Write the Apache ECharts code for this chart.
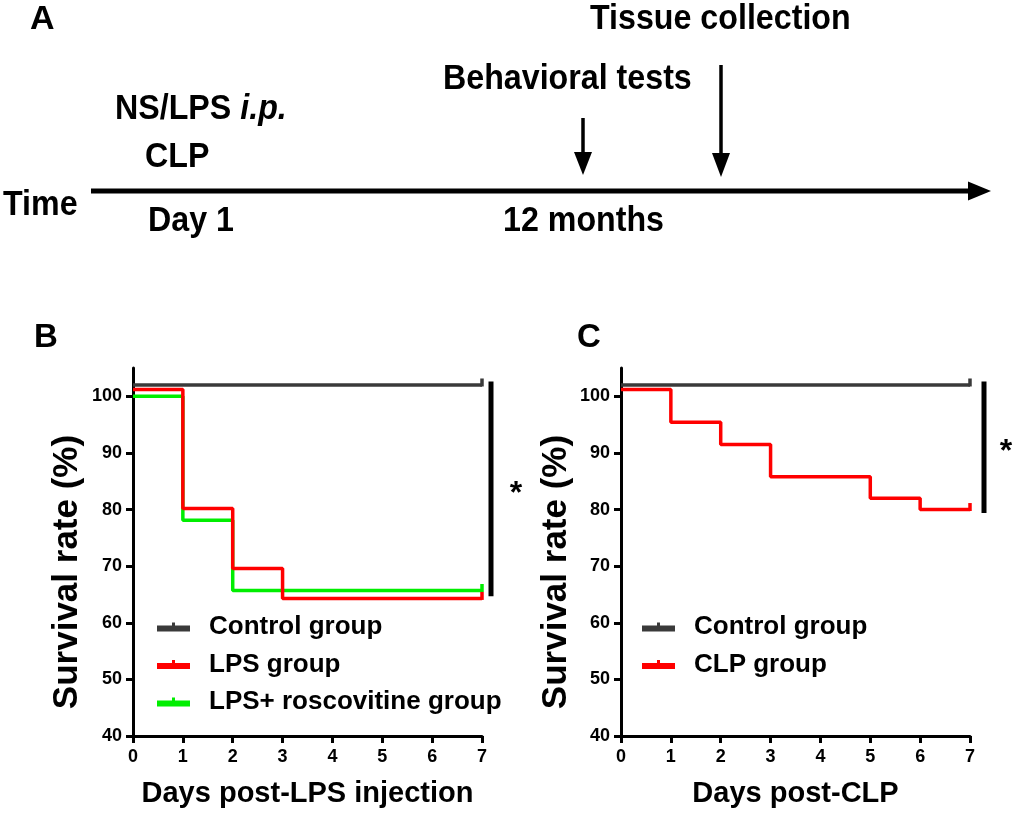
<!DOCTYPE html>
<html><head><meta charset="utf-8">
<script src="https://cdn.jsdelivr.net/npm/echarts@6/dist/echarts.min.js"></script>
<style>html,body{margin:0;padding:0;background:#fff}#c{width:1020px;height:813px}</style>
</head><body><div id="c"></div>
<script>
// ---------- data ----------
const dayTicks = [0, 1, 2, 3, 4, 5, 6, 7];
const yTicks = [40, 50, 60, 70, 80, 90, 100];

// Panel B
const namesB = ['Control group', 'LPS group', 'LPS+ roscovitine group'];
const bControlX = [0, 7];
const bControlY = [102, 102];
const bLpsX = [0, 1, 2, 3, 7];
const bLpsY = [101.2, 80.2, 69.6, 64.3, 64.3];
const bRosX = [0, 1, 2, 7];
const bRosY = [100, 78.1, 65.7, 65.7];
const sigBarB = [102.6, 64.7];   // y range of significance bar
// Panel C
const namesC = ['Control group', 'CLP group'];
const cControlX = [0, 7];
const cControlY = [102, 102];
const cClpX = [0, 1, 2, 3, 5, 6, 7];
const cClpY = [101.2, 95.4, 91.5, 85.8, 82, 80, 80];
const sigBarC = [102.6, 79.4];

// Panel A timeline labels
const timelineTexts = ['Time', 'Day 1', '12 months', 'CLP', 'Behavioral tests', 'Tissue collection'];

// ---------- styles ----------
const FONT = '"Liberation Sans", Arial, Helvetica, sans-serif';
const COL_CTRL = '#3a3a3a', COL_RED = '#ff0000', COL_GREEN = '#00ee00';

function mkData(xs, ys) {
  return xs.map((x, i) => i === xs.length - 1
    ? { value: [x, ys[i]], symbol: 'rect', symbolSize: [3.5, 8], symbolOffset: [0, -2.5] }
    : [x, ys[i]]);
}
function ser(name, xs, ys, color, gi, z) {
  return {
    type: 'line', name, xAxisIndex: gi, yAxisIndex: gi, step: 'end',
    data: mkData(xs, ys), symbol: 'none', showSymbol: true,
    color, lineStyle: { color, width: 3.5 }, itemStyle: { color },
    z, silent: true, animation: false
  };
}
function xAx(gi, name) {
  return {
    type: 'value', gridIndex: gi, min: 0, max: 7, interval: 1,
    name, nameLocation: 'middle', nameGap: 43,
    nameTextStyle: { fontSize: 29, fontWeight: 'bold', color: '#000', fontFamily: FONT },
    axisLine: { lineStyle: { color: '#000', width: 3 } },
    axisTick: { length: 7, lineStyle: { color: '#000', width: 3 } },
    axisLabel: { fontSize: 18, fontWeight: 'bold', color: '#000', margin: 12, fontFamily: FONT },
    splitLine: { show: false }
  };
}
function yAx(gi) {
  return {
    type: 'value', gridIndex: gi, min: 40, max: 105, interval: 10,
    axisLine: { show: true, lineStyle: { color: '#000', width: 3 } },
    axisTick: { show: true, length: 7, lineStyle: { color: '#000', width: 3 }, customValues: yTicks },
    axisLabel: { fontSize: 18, fontWeight: 'bold', color: '#000', margin: 11, fontFamily: FONT, customValues: yTicks },
    splitLine: { show: false }
  };
}
const legendIcon = 'path://M0,3H33V9H0Z M15,0H18V3H15Z';
function leg(left, names, colors) {
  return {
    orient: 'vertical', left, top: 613, padding: 0, itemGap: 9.5,
    itemWidth: 33, itemHeight: 9, icon: legendIcon, selectedMode: false,
    data: names.map((n, i) => ({ name: n, itemStyle: { color: colors[i] } })),
    textStyle: { fontSize: 26, fontWeight: 'bold', color: '#000', fontFamily: FONT, lineHeight: 28, padding: [0, 0, 0, 14] }
  };
}

const chart = echarts.init(document.getElementById('c'), null, { renderer: 'canvas' });
chart.setOption({
  animation: false,
  backgroundColor: '#fff',
  grid: [
    { left: 133, top: 368, width: 349, height: 368 },
    { left: 621, top: 368, width: 349, height: 368 }
  ],
  xAxis: [xAx(0, 'Days post-LPS injection'), xAx(1, 'Days post-CLP')],
  yAxis: [yAx(0), yAx(1)],
  legend: [
    leg(157, namesB, [COL_CTRL, COL_RED, COL_GREEN]),
    leg(642, namesC, [COL_CTRL, COL_RED])
  ],
  series: [
    ser(namesB[0], bControlX, bControlY, COL_CTRL, 0, 3),
    ser(namesB[2], bRosX, bRosY, COL_GREEN, 0, 4),
    ser(namesB[1], bLpsX, bLpsY, COL_RED, 0, 5),
    ser(namesC[0], cControlX, cControlY, COL_CTRL, 1, 3),
    ser(namesC[1], cClpX, cClpY, COL_RED, 1, 5)
  ]
});

// ---------- annotations (panel labels, axis titles, significance, timeline) ----------
function txt(text, x, y, size, opts) {
  opts = opts || {};
  return {
    type: 'text', x, y, rotation: opts.rotation || 0, scaleX: opts.scaleX || 1,
    style: {
      text, fill: '#000', font: (opts.italic ? 'italic ' : '') + 'bold ' + size + 'px ' + FONT,
      textAlign: opts.align || 'left', textVerticalAlign: 'middle', rich: opts.rich
    },
    silent: true, z: 10
  };
}
const g = [];
// panel labels
g.push(txt('A', 30, 20, 34));
g.push(txt('B', 34, 338, 33));
g.push(txt('C', 577, 338, 33));
// y axis titles
g.push(txt('Survival rate (%)', 67.5, 572, 35, { rotation: Math.PI / 2, align: 'center' }));
g.push(txt('Survival rate (%)', 556, 572, 35, { rotation: Math.PI / 2, align: 'center' }));

// significance bars from data values
function sig(gi, range, xOff, starOff) {
  const p1 = chart.convertToPixel({ gridIndex: gi }, [7, range[0]]);
  const p2 = chart.convertToPixel({ gridIndex: gi }, [7, range[1]]);
  const x = p1[0] + xOff;
  g.push({ type: 'line', shape: { x1: x, y1: p1[1], x2: x, y2: p2[1] }, style: { stroke: '#000', lineWidth: 5 }, silent: true, z: 10 });
  g.push(txt('*', x + starOff, (p1[1] + p2[1]) / 2 + 5, 32, { align: 'center' }));
}
sig(0, sigBarB, 9, 25);
sig(1, sigBarC, 14, 22);

// timeline
const TL_S = 0.92, TL_F = 35;
g.push(txt(timelineTexts[0], 3, 205, TL_F, { scaleX: TL_S }));
g.push(txt(timelineTexts[1], 148, 221, TL_F, { scaleX: TL_S }));
g.push(txt(timelineTexts[2], 503, 221, TL_F, { scaleX: TL_S }));
g.push({
  type: 'text', x: 115, y: 109, scaleX: TL_S, silent: true, z: 10,
  style: {
    text: '{n|NS/LPS }{i|i.p.}', textVerticalAlign: 'middle', textAlign: 'left',
    rich: {
      n: { font: 'bold ' + TL_F + 'px ' + FONT, fill: '#000' },
      i: { font: 'italic bold ' + TL_F + 'px ' + FONT, fill: '#000' }
    }
  }
});
g.push(txt(timelineTexts[3], 145, 157, TL_F, { scaleX: TL_S }));
g.push(txt(timelineTexts[4], 443, 79, TL_F, { scaleX: TL_S }));
g.push(txt(timelineTexts[5], 590, 19.5, TL_F, { scaleX: TL_S }));
// main axis arrow
g.push({ type: 'line', shape: { x1: 91, y1: 191, x2: 970, y2: 191 }, style: { stroke: '#000', lineWidth: 5 }, silent: true });
g.push({ type: 'polygon', shape: { points: [[968, 181.5], [991, 191], [968, 200.5]] }, style: { fill: '#000' }, silent: true });
// event arrows
function varrow(x, y0, yHead, yTip) {
  g.push({ type: 'line', shape: { x1: x, y1: y0, x2: x, y2: yHead + 2 }, style: { stroke: '#000', lineWidth: 3.5 }, silent: true });
  g.push({ type: 'polygon', shape: { points: [[x - 9, yHead], [x + 9, yHead], [x, yTip]] }, style: { fill: '#000' }, silent: true });
}
varrow(583, 118, 152, 175);
varrow(721, 65, 153, 177);

chart.setOption({ graphic: { elements: g } });
</script></body></html>
